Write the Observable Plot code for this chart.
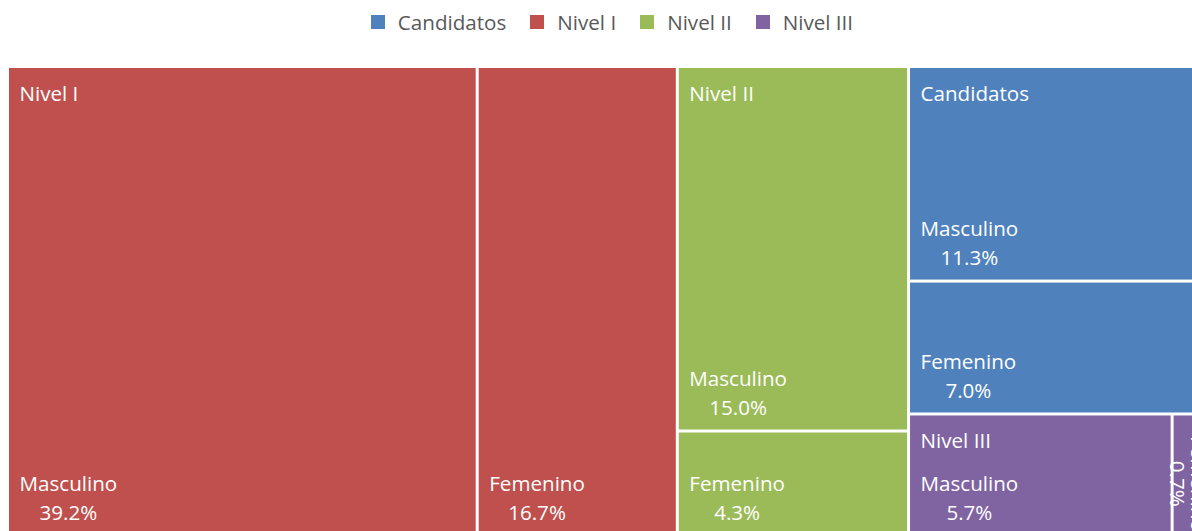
<!DOCTYPE html>
<html>
<head>
<meta charset="utf-8">
<script src="https://cdn.jsdelivr.net/npm/d3@7"></script>
<script src="https://cdn.jsdelivr.net/npm/@observablehq/plot@0.6"></script>
<style>
  body { margin: 0; background: #fff; font-family: "Open Sans", sans-serif; }
  #wrap { position: relative; width: 1192px; height: 531px; overflow: hidden; background: #fff; }
  #legend { position: absolute; left: 0; top: 0; width: 1192px; height: 44px; display: flex; align-items: center; justify-content: center; box-sizing: border-box; padding-left: 32px; }
  .item { display: flex; align-items: center; margin: 0 12px; color: #595959; font-size: 20.6px; line-height: 1; }
  .sw { width: 14px; height: 14px; margin-right: 13px; }
  #chart { position: absolute; left: 0; top: 46px; }
</style>
</head>
<body>
<div id="wrap">
  <div id="legend"></div>
  <div id="chart"></div>
</div>
<script>
// ---- data ----
const categories = ["Nivel I", "Nivel II", "Candidatos", "Nivel III"];
const genders = ["Masculino", "Femenino"];
const masculino = [39.2, 15.0, 11.3, 5.7];
const femenino = [16.7, 4.3, 7.0, 0.7];
const legendOrder = ["Candidatos", "Nivel I", "Nivel II", "Nivel III"];
const palette = ["#4F81BD", "#C0504D", "#9BBB59", "#8064A2"];

// ---- legend ----
const legend = document.getElementById("legend");
legendOrder.forEach((name, i) => {
  const it = document.createElement("div");
  it.className = "item";
  const sw = document.createElement("span");
  sw.className = "sw";
  sw.style.background = palette[i];
  it.appendChild(sw);
  it.appendChild(document.createTextNode(name));
  legend.appendChild(it);
});

// ---- layout ----
const tree = {
  name: "root",
  children: categories.map((c, i) => ({
    name: c,
    children: [
      {name: genders[0], value: masculino[i]},
      {name: genders[1], value: femenino[i]}
    ]
  }))
};
const TW = 1194, TH = 466;
const FS = 20.6;
const root = d3.hierarchy(tree).sum(d => d.value || 0).sort((a, b) => b.value - a.value);
d3.treemap().tile(d3.treemapBinary).size([TW, TH]).paddingInner(3)(root);
const parents = root.children;
const leaves = root.leaves();

const ctx = document.createElement("canvas").getContext("2d");
ctx.font = FS + "px 'Open Sans'";
const tw = s => ctx.measureText(s).width;
const pct = v => v.toFixed(1) + "%";

const wide = leaves.filter(d => d.x1 - d.x0 >= 60);
const narrow = leaves.filter(d => d.x1 - d.x0 < 60);

const plot = Plot.plot({
  width: 1192,
  height: 485,
  x: {domain: [0, TW], range: [9, 9 + TW], axis: null},
  y: {domain: [0, TH], range: [22, 22 + TH], axis: null},
  color: {domain: legendOrder, range: palette},
  style: {background: "transparent", overflow: "visible", fontFamily: "'Open Sans', sans-serif"},
  marks: [
    Plot.rect(leaves, {x1: "x0", x2: "x1", y1: "y0", y2: "y1", fill: d => d.parent.data.name}),
    Plot.text(parents, {x: "x0", y: "y0", dx: 10, dy: 32, text: d => d.data.name,
      textAnchor: "start", lineAnchor: "bottom", fill: "white", fontSize: FS}),
    Plot.text(wide, {x: "x0", y: "y1", dx: 10, dy: -44, text: d => d.data.name,
      textAnchor: "start", lineAnchor: "bottom", fill: "white", fontSize: FS}),
    Plot.text(wide, {x: d => d.x0 + 10 + tw(d.data.name) / 2, y: "y1", dy: -15, text: d => pct(d.data.value),
      textAnchor: "middle", lineAnchor: "bottom", fill: "white", fontSize: FS}),
    Plot.text(narrow, {x: "x0", y: d => d.y0 + 20 + tw(d.data.name) / 2, dx: 17, text: d => d.data.name,
      rotate: 90, textAnchor: "middle", lineAnchor: "bottom", fill: "white", fontSize: FS}),
    Plot.text(narrow, {x: "x0", y: d => d.y0 + 20 + tw(d.data.name) / 2, dx: -4, text: d => pct(d.data.value),
      rotate: 90, textAnchor: "middle", lineAnchor: "bottom", fill: "white", fontSize: FS})
  ]
});
document.getElementById("chart").appendChild(plot);
</script>
</body>
</html>
